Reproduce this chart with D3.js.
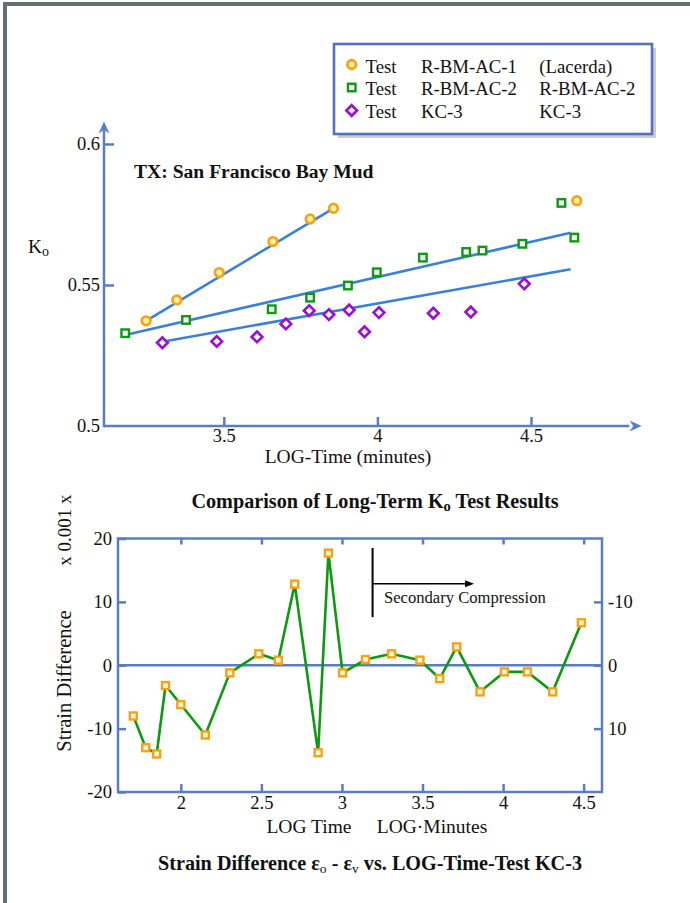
<!DOCTYPE html>
<html>
<head>
<meta charset="utf-8">
<script src="https://cdn.jsdelivr.net/npm/d3@7"></script>
<style>
  html, body { margin: 0; padding: 0; background: #ffffff; }
  svg { display: block; }
  text { font-family: "Liberation Serif", "Times New Roman", serif; fill: #111; }
</style>
</head>
<body>
<script>
// ---------------- DATA ----------------
// Top chart: K0 vs LOG-Time (minutes)
const acX1 = [3.247, 3.347, 3.485, 3.660, 3.781, 3.857, 4.649];
const acY1 = [0.5373, 0.5447, 0.5544, 0.5654, 0.5734, 0.5772, 0.5799];
const acX2 = [3.179, 3.377, 3.656, 3.781, 3.904, 3.998, 4.148, 4.289, 4.342, 4.472, 4.599, 4.641];
const acY2 = [0.5329, 0.5376, 0.5414, 0.5455, 0.5498, 0.5545, 0.5597, 0.5617, 0.5622, 0.5646, 0.5791, 0.5668];
const kcX3 = [3.300, 3.477, 3.608, 3.702, 3.778, 3.842, 3.908, 3.958, 4.005, 4.182, 4.304, 4.478];
const kcY3 = [0.5295, 0.5300, 0.5316, 0.5362, 0.5409, 0.5395, 0.5411, 0.5334, 0.5402, 0.5400, 0.5404, 0.5504];
// fitted trend lines (end points)
const fitX1 = [3.247, 3.857];  const fitY1 = [0.5373, 0.5772];
const fitX2 = [3.179, 4.629];  const fitY2 = [0.5323, 0.5685];
const fitX3 = [3.300, 4.629];  const fitY3 = [0.5299, 0.5556];
const topXTicks = [3.5, 4, 4.5];
const topXLabels = ["3.5", "4", "4.5"];
const topYTicks = [0.5, 0.55, 0.6];
const topYLabels = ["0.5", "0.55", "0.6"];
const legendCol1 = ["Test", "Test", "Test"];
const legendCol2 = ["R-BM-AC-1", "R-BM-AC-2", "KC-3"];
const legendCol3 = ["(Lacerda)", "R-BM-AC-2", "KC-3"];

// Bottom chart: strain difference vs LOG time (KC-3)
const sdX = [1.705, 1.782, 1.850, 1.905, 2.000, 2.152, 2.304, 2.484, 2.605, 2.707, 2.852, 2.916,
             3.004, 3.146, 3.308, 3.484, 3.607, 3.712, 3.857, 4.008, 4.151, 4.308, 4.486];
const sdY = [-8, -13, -14, -3.2, -6.2, -11, -1.2, 1.8, 0.8, 12.8, -13.8, 17.7,
             -1.2, 0.9, 1.8, 0.8, -2.1, 2.9, -4.2, -1.05, -1.05, -4.2, 6.7];
const botXTicks = [2, 2.5, 3, 3.5, 4, 4.5];
const botXLabels = ["2", "2.5", "3", "3.5", "4", "4.5"];
const botYTicks = [-20, -10, 0, 10, 20];
const botYLabels = ["-20", "-10", "0", "10", "20"];
const botRTicks = [-10, 0, 10];
const botRLabels = ["10", "0", "-10"];
const secAnnot = { x: 3.19, yTop: 18.5, yBot: 7.6, yArrow: 12.85, xEnd: 3.82 };

// ---------------- STYLE ----------------
const AX = "#5b7cc3";
const BLUE = "#3a80d6";
const ORANGE = "#f8a114";
const GREEN = "#0c9a10";
const PURPLE = "#9a12d0";

const svg = d3.select("body").append("svg").attr("width", 690).attr("height", 903);
svg.append("rect").attr("width", 690).attr("height", 903).attr("fill", "#fff");

// outer frame (left + top)
svg.append("path").attr("d", "M5,903 V4 H690").attr("fill", "none")
  .attr("stroke", "#646e75").attr("stroke-width", 4);

// ---------------- TOP CHART ----------------
const xT = d3.scaleLinear().domain([3.11, 4.86]).range([104, 641.6]);
const yT = d3.scaleLinear().domain([0.5, 0.608]).range([426, 121.4]);
const gT = svg.append("g");

gT.append("line").attr("x1", xT(3.11)).attr("x2", xT(4.82)).attr("y1", yT(0.5)).attr("y2", yT(0.5))
  .attr("stroke", AX).attr("stroke-width", 2.5);
gT.append("line").attr("x1", xT(3.11)).attr("x2", xT(3.11)).attr("y1", yT(0.5) + 1.2).attr("y2", yT(0.605))
  .attr("stroke", AX).attr("stroke-width", 2.5);
function arrowHead(g, x, y, dir, len, half, color) {
  let p;
  if (dir === "right") p = `M${x},${y} L${x - len},${y - half} L${x - len * 0.7},${y} L${x - len},${y + half} Z`;
  else p = `M${x},${y} L${x - half},${y + len} L${x},${y + len * 0.7} L${x + half},${y + len} Z`;
  g.append("path").attr("d", p).attr("fill", color);
}
arrowHead(gT, xT(4.86), yT(0.5), "right", 12, 5.5, AX);
arrowHead(gT, xT(3.11), yT(0.608), "up", 12, 5.5, AX);

const axXT = d3.axisBottom(xT).tickValues(topXTicks).tickSize(-9).tickPadding(3)
  .tickFormat((d, i) => topXLabels[i]);
const gxT = gT.append("g").attr("transform", `translate(0,${yT(0.5)})`).call(axXT);
const axYT = d3.axisLeft(yT).tickValues(topYTicks).tickSize(-10).tickPadding(4)
  .tickFormat((d, i) => topYLabels[i]);
const gyT = gT.append("g").attr("transform", `translate(${xT(3.11)},0)`).call(axYT);
[gxT, gyT].forEach(g => {
  g.select(".domain").remove();
  g.selectAll(".tick line").attr("stroke", AX).attr("stroke-width", 2.5);
  g.selectAll(".tick text").attr("font-family", "Liberation Serif, serif").attr("font-size", 18.5).attr("fill", "#111");
});
gyT.selectAll(".tick").filter(d => d === 0.5).select("line").remove();

// fit lines
const lineT = d3.line().x(d => xT(d[0])).y(d => yT(d[1]));
[[fitX1, fitY1], [fitX2, fitY2], [fitX3, fitY3]].forEach(([xs, ys]) => {
  gT.append("path").datum(xs.map((x, i) => [x, ys[i]])).attr("d", lineT)
    .attr("fill", "none").attr("stroke", BLUE).attr("stroke-width", 2.6);
});

// markers
function circleMark(g, x, y) {
  g.append("circle").attr("cx", x).attr("cy", y).attr("r", 4.3)
    .attr("fill", "#fff3a0").attr("stroke", ORANGE).attr("stroke-width", 2.7);
}
function squareMark(g, x, y, color, fill, s) {
  g.append("rect").attr("x", x - s / 2).attr("y", y - s / 2).attr("width", s).attr("height", s)
    .attr("fill", fill).attr("stroke", color).attr("stroke-width", 2.4);
}
function diamondMark(g, x, y) {
  const r = 5.3;
  g.append("path").attr("d", `M${x},${y - r} L${x + r},${y} L${x},${y + r} L${x - r},${y} Z`)
    .attr("fill", "#fff").attr("stroke", PURPLE).attr("stroke-width", 2.7);
}
kcX3.forEach((x, i) => diamondMark(gT, xT(x), yT(kcY3[i])));
acX2.forEach((x, i) => squareMark(gT, xT(x), yT(acY2[i]), GREEN, "#fff", 7.5));
acX1.forEach((x, i) => circleMark(gT, xT(x), yT(acY1[i])));

// title in plot
gT.append("text").attr("x", 134).attr("y", 178).attr("font-weight", "bold").attr("font-size", 19.6)
  .text("TX: San Francisco Bay Mud");
// axis titles
gT.append("text").attr("x", 348).attr("y", 463).attr("text-anchor", "middle").attr("font-size", 19.5)
  .text("LOG-Time (minutes)");
const koT = gT.append("text").attr("x", 28).attr("y", 253).attr("font-size", 19.5);
koT.append("tspan").text("K");
koT.append("tspan").attr("font-size", 14).attr("dy", 3).text("o");

// legend
const lg = svg.append("g");
lg.append("rect").attr("x", 338).attr("y", 48).attr("width", 318).attr("height", 90).attr("fill", "#cdcdcd");
lg.append("rect").attr("x", 334).attr("y", 44).attr("width", 318).attr("height", 90)
  .attr("fill", "#fff").attr("stroke", "#5570bf").attr("stroke-width", 2.6);
const rowY = [72.5, 95, 117.7];
const markY = [64.5, 87.5, 110.5];
circleMark(lg, 351.7, markY[0]);
squareMark(lg, 351.7, markY[1], GREEN, "#fff", 7.5);
diamondMark(lg, 351.7, markY[2]);
[[legendCol1, 365.5], [legendCol2, 421], [legendCol3, 539.3]].forEach(([arr, x]) => {
  arr.forEach((t, i) => lg.append("text").attr("x", x).attr("y", rowY[i]).attr("font-size", 18.8).text(t));
});

// middle title
const midT = svg.append("text").attr("x", 375).attr("y", 508).attr("text-anchor", "middle")
  .attr("font-weight", "bold").attr("font-size", 20.2);
midT.append("tspan").text("Comparison of Long-Term K");
midT.append("tspan").attr("font-size", 14.5).attr("dy", 3).text("o");
midT.append("tspan").attr("dy", -3).text(" Test Results");

// ---------------- BOTTOM CHART ----------------
const xB = d3.scaleLinear().domain([1.61, 4.614]).range([118, 602]);
const yB = d3.scaleLinear().domain([-20, 20]).range([792, 538.5]);
const gB = svg.append("g");

gB.append("line").attr("x1", xB(1.61)).attr("x2", xB(4.614)).attr("y1", yB(0)).attr("y2", yB(0))
  .attr("stroke", AX).attr("stroke-width", 2.5);

const axB = d3.axisBottom(xB).tickValues(botXTicks).tickSize(-8).tickPadding(4)
  .tickFormat((d, i) => botXLabels[i]);
const gxB = gB.append("g").attr("transform", `translate(0,${yB(-20)})`).call(axB);
const axTop = d3.axisTop(xB).tickValues(botXTicks).tickSize(-6).tickFormat("");
const gxTop = gB.append("g").attr("transform", `translate(0,${yB(20)})`).call(axTop);
const axL = d3.axisLeft(yB).tickValues(botYTicks).tickSize(-8).tickPadding(6)
  .tickFormat((d, i) => botYLabels[i]);
const gyL = gB.append("g").attr("transform", `translate(${xB(1.61)},0)`).call(axL);
const axR = d3.axisRight(yB).tickValues(botRTicks).tickSize(-8).tickPadding(6)
  .tickFormat((d, i) => botRLabels[i]);
const gyR = gB.append("g").attr("transform", `translate(${xB(4.614)},0)`).call(axR);
[gxB, gxTop, gyL, gyR].forEach(g => {
  g.select(".domain").remove();
  g.selectAll(".tick line").attr("stroke", AX).attr("stroke-width", 2.5);
  g.selectAll(".tick text").attr("font-family", "Liberation Serif, serif").attr("font-size", 18.5).attr("fill", "#111");
});
gB.append("rect").attr("x", xB(1.61)).attr("y", yB(20)).attr("width", xB(4.614) - xB(1.61))
  .attr("height", yB(-20) - yB(20)).attr("fill", "none").attr("stroke", AX).attr("stroke-width", 2.5);

// annotation
gB.append("line").attr("x1", xB(secAnnot.x)).attr("x2", xB(secAnnot.x))
  .attr("y1", yB(secAnnot.yTop)).attr("y2", yB(secAnnot.yBot)).attr("stroke", "#000").attr("stroke-width", 2);
gB.append("line").attr("x1", xB(secAnnot.x)).attr("x2", xB(secAnnot.xEnd) - 6)
  .attr("y1", yB(secAnnot.yArrow)).attr("y2", yB(secAnnot.yArrow)).attr("stroke", "#000").attr("stroke-width", 1.6);
gB.append("path").attr("d", `M${xB(secAnnot.xEnd)},${yB(secAnnot.yArrow)} l-9,-3.5 l0,7 Z`).attr("fill", "#000");
gB.append("text").attr("x", 384).attr("y", 603).attr("font-size", 16.6).text("Secondary Compression");

// data line + markers
const lineB = d3.line().x(d => xB(d)).y((d, i) => yB(sdY[i]));
gB.append("path").datum(sdX).attr("d", lineB).attr("fill", "none")
  .attr("stroke", GREEN).attr("stroke-width", 2.6).attr("stroke-linejoin", "round");
sdX.forEach((x, i) => squareMark(gB, xB(x), yB(sdY[i]), ORANGE, "#fffbe0", 7));

// axis titles
gB.append("text").attr("x", 309).attr("y", 833).attr("text-anchor", "middle").attr("font-size", 19.5).text("LOG Time");
gB.append("text").attr("x", 432).attr("y", 833).attr("text-anchor", "middle").attr("font-size", 19.5).text("LOG·Minutes");
gB.append("text").attr("transform", "translate(71,681) rotate(-90)").attr("text-anchor", "middle")
  .attr("font-size", 20.5).text("Strain Difference");
gB.append("text").attr("transform", "translate(71,530) rotate(-90)").attr("text-anchor", "middle")
  .attr("font-size", 19).text("x 0.001 x");

// bottom title
const bT = svg.append("text").attr("x", 370).attr("y", 870).attr("text-anchor", "middle")
  .attr("font-weight", "bold").attr("font-size", 20.2);
bT.append("tspan").text("Strain Difference ε");
bT.append("tspan").attr("font-size", 13.5).attr("font-weight", "normal").attr("dy", 3).text("o");
bT.append("tspan").attr("dy", -3).text(" - ε");
bT.append("tspan").attr("font-size", 13.5).attr("font-weight", "normal").attr("dy", 3).text("v");
bT.append("tspan").attr("dy", -3).text(" vs. LOG-Time-Test KC-3");
</script>
</body>
</html>
